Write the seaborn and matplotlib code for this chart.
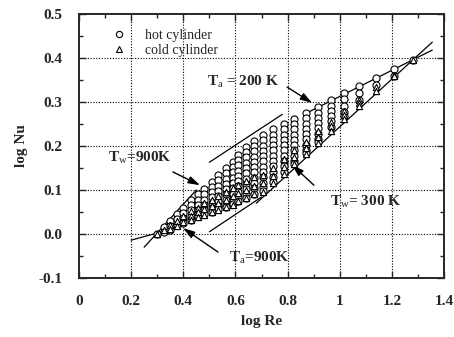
import matplotlib
matplotlib.use("Agg")
import matplotlib.pyplot as plt
from matplotlib.lines import Line2D
from matplotlib.ticker import MultipleLocator
import seaborn as sns
import pandas as pd

# ---------------- data ----------------
col_x = [0.300, 0.325, 0.350, 0.375, 0.400, 0.430, 0.455, 0.480, 0.510,
         0.535, 0.565, 0.590, 0.610, 0.640, 0.670, 0.705, 0.745, 0.785,
         0.825, 0.870, 0.915, 0.965, 1.015, 1.075, 1.140, 1.210, 1.280]

hot_y = [
    [0.000],
    [0.015, 0.005],
    [0.030, 0.019, 0.010],
    [0.045, 0.033, 0.021],
    [0.060, 0.048, 0.036, 0.025],
    [0.078, 0.066, 0.054, 0.042, 0.032],
    [0.090, 0.078, 0.066, 0.054, 0.042],
    [0.102, 0.090, 0.078, 0.066, 0.055, 0.045],
    [0.119, 0.107, 0.095, 0.083, 0.071, 0.060, 0.050],
    [0.134, 0.122, 0.110, 0.098, 0.086, 0.074, 0.063, 0.056],
    [0.150, 0.138, 0.126, 0.114, 0.102, 0.090, 0.078, 0.068, 0.062],
    [0.164, 0.152, 0.140, 0.128, 0.116, 0.104, 0.092, 0.080, 0.068],
    [0.180, 0.168, 0.156, 0.144, 0.132, 0.120, 0.108, 0.096, 0.085, 0.075],
    [0.198, 0.186, 0.174, 0.162, 0.150, 0.138, 0.126, 0.114, 0.102, 0.091, 0.082],
    [0.212, 0.200, 0.188, 0.176, 0.164, 0.152, 0.140, 0.128, 0.116, 0.104, 0.092],
    [0.225, 0.213, 0.201, 0.189, 0.177, 0.165, 0.153, 0.141, 0.129, 0.117, 0.106, 0.098],
    [0.238, 0.226, 0.214, 0.202, 0.190, 0.178, 0.166, 0.154, 0.142, 0.130, 0.119],
    [0.250, 0.238, 0.226, 0.214, 0.202, 0.190, 0.178, 0.166, 0.154, 0.142],
    [0.262, 0.250, 0.238, 0.226, 0.214, 0.202, 0.190, 0.178, 0.166, 0.160],
    [0.275, 0.263, 0.251, 0.239, 0.227, 0.215, 0.203, 0.191, 0.185],
    [0.288, 0.276, 0.264, 0.252, 0.240, 0.228, 0.216, 0.210],
    [0.304, 0.292, 0.280, 0.268, 0.256, 0.244],
    [0.320, 0.306, 0.292, 0.278, 0.268],
    [0.336, 0.320, 0.305],
    [0.354, 0.338],
    [0.375, 0.360],
    [0.395],
]

cold_y = [
    [0.000],
    [0.008],
    [0.020, 0.012],
    [0.030, 0.018],
    [0.040, 0.028],
    [0.052, 0.041, 0.031],
    [0.060, 0.049, 0.038],
    [0.070, 0.056, 0.043],
    [0.078, 0.063, 0.049],
    [0.086, 0.070, 0.055],
    [0.095, 0.078, 0.061],
    [0.105, 0.086, 0.067],
    [0.112, 0.093, 0.074],
    [0.120, 0.100, 0.081],
    [0.130, 0.110, 0.090],
    [0.135, 0.116, 0.096],
    [0.150, 0.132, 0.115],
    [0.170, 0.153, 0.137],
    [0.190, 0.174, 0.158],
    [0.210, 0.196, 0.182],
    [0.235, 0.221, 0.207],
    [0.255, 0.245, 0.235],
    [0.280, 0.270, 0.261],
    [0.305, 0.298, 0.291],
    [0.335, 0.326],
    [0.362, 0.358],
    [0.395],
]

# straight guide / fit lines drawn in the figure (start, end)
line_x = [[0.20, 0.36], [0.25, 0.45], [0.50, 0.78], [0.88, 1.355], [0.50, 0.70], [0.68, 1.355]]
line_y = [[-0.014, 0.012], [-0.030, 0.100], [0.163, 0.272], [0.277, 0.418], [0.005, 0.084], [0.070, 0.436]]

x_ticks = [0, 0.2, 0.4, 0.6, 0.8, 1.0, 1.2, 1.4]
x_tick_labels = ["0", "0.2", "0.4", "0.6", "0.8", "1", "1.2", "1.4"]
y_ticks = [-0.1, 0.0, 0.1, 0.2, 0.3, 0.4, 0.5]
y_tick_labels = ["-0.1", "0.0", "0.1", "0.2", "0.3", "0.4", "0.5"]

rows = []
for x, ys in zip(col_x, hot_y):
    for y in ys:
        rows.append(("hot cylinder", x, y))
for x, ys in zip(col_x, cold_y):
    for y in ys:
        rows.append(("cold cylinder", x, y))
df = pd.DataFrame(rows, columns=["cylinder", "logRe", "logNu"])

# ---------------- style ----------------
sns.set_style("ticks")
plt.rcParams["font.family"] = ["Liberation Serif", "DejaVu Serif"]
plt.rcParams["mathtext.fontset"] = "custom"
plt.rcParams["mathtext.rm"] = "Liberation Serif"
plt.rcParams["mathtext.it"] = "Liberation Serif:italic"

fig = plt.figure(figsize=(4.54, 3.37), dpi=100)
ax = fig.add_axes([79 / 454, 1 - 278 / 337, 365 / 454, 264 / 337])

# grid
for gx in [0.2, 0.4, 0.6, 0.8, 1.0, 1.2]:
    ax.axvline(gx, color="black", lw=0.8, ls=(0, (1, 1.5)), zorder=0)
for gy in [0.0, 0.1, 0.2, 0.3, 0.4]:
    ax.axhline(gy, color="black", lw=0.8, ls=(0, (1, 1.5)), zorder=0)

# lines
for lx, ly in zip(line_x, line_y):
    ax.plot(lx, ly, color="black", lw=0.9, zorder=1)

sns.scatterplot(data=df[df.cylinder == "hot cylinder"], x="logRe", y="logNu",
                marker="o", s=26, facecolor="white", edgecolor="black",
                linewidth=0.8, ax=ax, zorder=3, legend=False)
sns.scatterplot(data=df[df.cylinder == "cold cylinder"], x="logRe", y="logNu",
                marker="^", s=20, facecolor="white", edgecolor="black",
                linewidth=0.8, ax=ax, zorder=4, legend=False)

ax.set_xlim(0, 1.4)
ax.set_ylim(-0.1, 0.5)
ax.set_xticks(x_ticks)
ax.set_xticklabels(x_tick_labels)
ax.set_yticks(y_ticks)
ax.set_yticklabels(y_tick_labels)
ax.xaxis.set_minor_locator(MultipleLocator(0.1))
ax.yaxis.set_minor_locator(MultipleLocator(0.05))
ax.tick_params(which="both", direction="in", top=True, right=True, width=1.0)
ax.tick_params(which="major", length=5, labelsize=11, pad=12)
ax.tick_params(which="minor", length=3)
for lab in ax.get_xticklabels() + ax.get_yticklabels():
    lab.set_fontweight("bold")
for sp in ax.spines.values():
    sp.set_linewidth(1.4)

ax.set_xlabel("log Re", fontsize=11, fontweight="bold", labelpad=5)
ax.set_ylabel("log Nu", fontsize=11, fontweight="bold", labelpad=7)

handles = [
    Line2D([], [], marker="o", ls="", markerfacecolor="white", markeredgecolor="black", markersize=4.5, markeredgewidth=0.8),
    Line2D([], [], marker="^", ls="", markerfacecolor="white", markeredgecolor="black", markersize=4, markeredgewidth=0.8),
]
ax.legend(handles, ["hot cylinder", "cold cylinder"], loc="upper left",
          bbox_to_anchor=(0.055, 0.99), frameon=False, fontsize=10,
          handlelength=1.0, handletextpad=1.4, labelspacing=0.1)

arrow = dict(arrowstyle="-|>,head_length=0.7,head_width=0.22", color="black", lw=1.0,
             shrinkA=0, shrinkB=0)
ax.text(0.491, 0.345, r"T$_\mathrm{a}$ = 200 K", fontsize=11, fontweight="bold", va="center", ha="left")
ax.annotate("", xy=(0.894, 0.298), xytext=(0.798, 0.334), arrowprops=arrow)

ax.text(0.111, 0.173, r"T$_\mathrm{w}$=900K", fontsize=11, fontweight="bold", va="center", ha="left")
ax.annotate("", xy=(0.464, 0.111), xytext=(0.36, 0.141), arrowprops=arrow)

ax.text(0.963, 0.073, r"T$_\mathrm{w}$= 300 K", fontsize=11, fontweight="bold", va="center", ha="left")
ax.annotate("", xy=(0.817, 0.157), xytext=(0.901, 0.111), arrowprops=arrow)

ax.text(0.575, -0.055, r"T$_\mathrm{a}$=900K", fontsize=11, fontweight="bold", va="center", ha="left")
ax.annotate("", xy=(0.399, 0.0136), xytext=(0.533, -0.041), arrowprops=arrow)

fig.savefig("out.png", dpi=100)
